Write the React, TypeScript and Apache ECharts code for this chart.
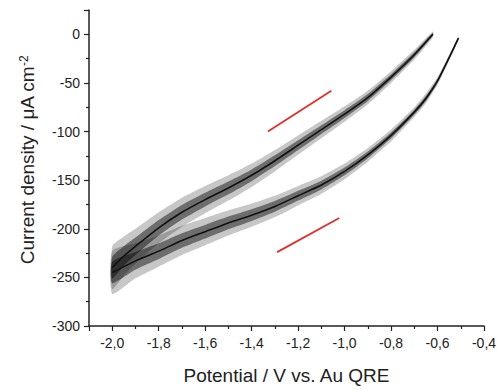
import React, { useEffect, useRef } from "react";
import * as echarts from "echarts";

// Forward scan (upper branch, towards positive potential)
const fwdV = [-2.0, -1.95, -1.9, -1.8, -1.7, -1.6, -1.5, -1.4, -1.3, -1.2, -1.1, -1.0, -0.9, -0.8, -0.7, -0.62];
const fwdI = [-240, -228, -218, -199, -183, -170, -158, -145, -130, -114, -98, -82, -65, -44, -21, 0];
const fwdNoise = [22, 20, 18, 16, 15, 14, 13, 12, 11, 10, 9, 8, 7, 6, 5, 3];

// Reverse scan (lower branch, back towards negative potential)
const revV = [-0.51, -0.55, -0.6, -0.65, -0.7, -0.8, -0.9, -1.0, -1.1, -1.2, -1.3, -1.4, -1.5, -1.6, -1.7, -1.8, -1.9, -2.0];
const revI = [-4, -24, -48, -66, -80, -104, -124, -141, -155, -166, -177, -186, -194, -203, -212, -223, -233, -245];
const revNoise = [2, 3, 4, 5, 5, 6, 7, 8, 9, 10, 11, 12, 13, 14, 15, 16, 18, 22];

// Red direction arrows [startV, startI, endV, endI]
const arrowFwd = [-1.33, -100, -1.057, -58];
const arrowRev = [-1.023, -189, -1.29, -224];

const xTickFmt = (v: number) => v.toFixed(1).replace(".", ",");

export default function App() {
  const ref = useRef<HTMLDivElement>(null);
  useEffect(() => {
    if (!ref.current) return;
    const chart = echarts.init(ref.current, null, { renderer: "svg" });
    const font = "'Liberation Sans', Arial, sans-serif";
    const bands = [
      { v: fwdV, i: fwdI, n: fwdNoise },
      { v: revV, i: revI, n: revNoise },
    ];
    const bandSeries = {
      type: "custom",
      silent: true,
      z: 1,
      clip: true,
      encode: { x: 0, y: 1 },
      data: [
        [-1.2, -100, 0],
        [-1.2, -150, 1],
      ],
      renderItem: (params: any, api: any) => {
        const b = bands[api.value(2)];
        const poly = (f: number, fill: string) => {
          const upper = b.v.map((v, k) => api.coord([v, b.i[k] + f * b.n[k]]));
          const lower = b.v.map((v, k) => api.coord([v, b.i[k] - f * b.n[k]])).reverse();
          return {
            type: "polygon",
            shape: { points: upper.concat(lower), smooth: 0.2 },
            style: { fill, stroke: "none" },
          };
        };
        return {
          type: "group",
          children: [poly(1, "rgba(0,0,0,0.22)"), poly(0.5, "rgba(0,0,0,0.45)")],
        };
      },
    };
    const lineCommon = {
      type: "line",
      showSymbol: false,
      smooth: 0.2,
      lineStyle: { width: 1.6, color: "#111" },
      z: 3,
    };
    chart.setOption({
      animation: false,
      grid: { left: 89, right: 16, top: 10, bottom: 60 },
      xAxis: {
        type: "value",
        min: -2.1,
        max: -0.4,
        splitNumber: 8,
        name: "Potential / V vs. Au QRE",
        nameLocation: "middle",
        nameGap: 40,
        nameTextStyle: { fontFamily: font, fontSize: 19, color: "#222" },
        axisLine: { show: true, onZero: false, lineStyle: { color: "#222", width: 1.5 } },
        axisTick: { show: true, inside: false, length: 5, lineStyle: { color: "#222", width: 1.2 } },
        minorTick: { show: true, splitNumber: 2, length: 3, lineStyle: { color: "#222", width: 1.2 } },
        splitLine: { show: false },
        axisLabel: {
          showMinLabel: false,
          margin: 10,
          fontFamily: font,
          fontSize: 14,
          color: "#222",
          formatter: xTickFmt,
        },
      },
      yAxis: {
        type: "value",
        min: -300,
        max: 25,
        interval: 50,
        name: "Current density / μA cm{sup|-2}",
        nameLocation: "middle",
        nameGap: 52,
        nameRotate: 90,
        nameTextStyle: {
          fontFamily: font,
          fontSize: 19,
          color: "#222",
          padding: [0, 0, 0, 16],
          rich: { sup: { fontFamily: font, fontSize: 12, color: "#222", verticalAlign: "top", lineHeight: 10 } },
        },
        axisLine: { show: true, onZero: false, lineStyle: { color: "#222", width: 1.5 } },
        axisTick: { show: true, inside: false, length: 5, lineStyle: { color: "#222", width: 1.2 } },
        minorTick: { show: true, splitNumber: 2, length: 3, lineStyle: { color: "#222", width: 1.2 } },
        splitLine: { show: false },
        axisLabel: {
          showMaxLabel: false,
          margin: 9,
          fontFamily: font,
          fontSize: 14,
          color: "#222",
        },
      },
      series: [
        bandSeries,
        { ...lineCommon, data: fwdV.map((v, k) => [v, fwdI[k]]) },
        {
          ...lineCommon,
          data: revV.map((v, k) => [v, revI[k]]),
          markLine: {
            silent: true,
            symbol: ["none", "none"],
            label: { show: false },
            lineStyle: { color: "#e0302c", width: 1.8, type: "solid" },
            data: [
              [{ coord: [arrowFwd[0], arrowFwd[1]] }, { coord: [arrowFwd[2], arrowFwd[3]] }],
              [{ coord: [arrowRev[0], arrowRev[1]] }, { coord: [arrowRev[2], arrowRev[3]] }],
            ],
          },
        },
      ],
    });
    return () => chart.dispose();
  }, []);
  return (
    <div
      ref={ref}
      style={{ position: "fixed", left: 0, top: 0, width: 500, height: 390, background: "#fff" }}
    />
  );
}
